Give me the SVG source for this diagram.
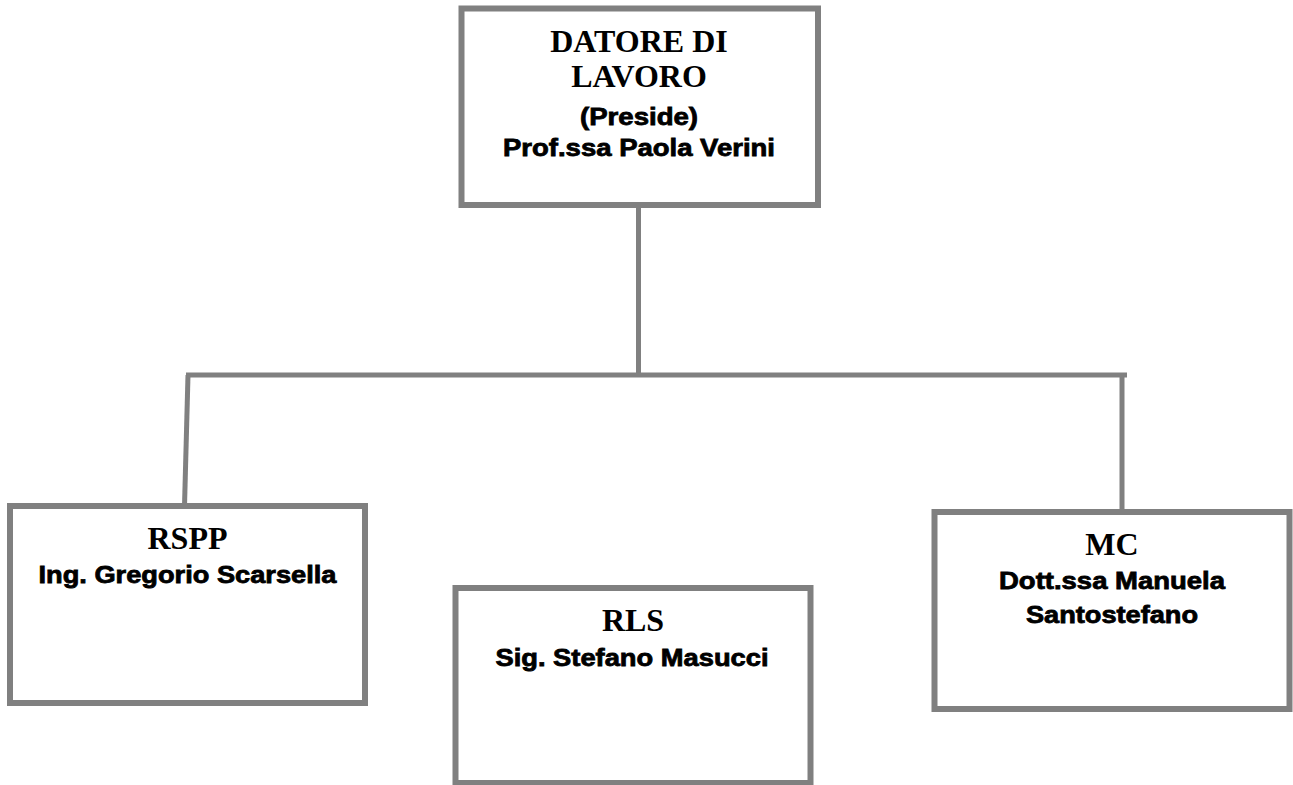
<svg xmlns="http://www.w3.org/2000/svg" width="1293" height="785" viewBox="0 0 1293 785">
<style>
.box{fill:#ffffff;stroke:#808080;stroke-width:6}
.con{fill:none;stroke:#808080;stroke-width:5}
.t{font-family:"Liberation Serif","Times New Roman",serif;font-weight:bold;font-size:32px;fill:#000;text-anchor:middle}
.s{font-family:"Liberation Sans",Arial,sans-serif;font-weight:bold;font-size:24px;fill:#000;stroke:#000;stroke-width:0.8;text-anchor:middle}
</style>
<rect width="1293" height="785" fill="#ffffff"/>
<g id="connectors">
<line class="con" x1="638.5" y1="205" x2="638.5" y2="375"/>
<line class="con" x1="186" y1="375" x2="1127" y2="375"/>
<line class="con" x1="188" y1="375" x2="184.5" y2="506"/>
<line class="con" x1="1122" y1="375" x2="1122" y2="512"/>
</g>
<g id="datore">
<rect class="box" x="461.5" y="8.5" width="356.5" height="196.5"/>
<text class="t" x="639" y="52">DATORE DI</text>
<text class="t" x="639" y="87">LAVORO</text>
<text class="s" x="639" y="125" textLength="118" lengthAdjust="spacingAndGlyphs">(Preside)</text>
<text class="s" x="639" y="156" textLength="272" lengthAdjust="spacingAndGlyphs">Prof.ssa Paola Verini</text>
</g>
<g id="rspp">
<rect class="box" x="10" y="506" width="355" height="197"/>
<text class="t" x="187.5" y="549">RSPP</text>
<text class="s" x="187.5" y="583" textLength="298" lengthAdjust="spacingAndGlyphs">Ing. Gregorio Scarsella</text>
</g>
<g id="rls">
<rect class="box" x="455.5" y="588" width="355" height="195"/>
<text class="t" x="633" y="631">RLS</text>
<text class="s" x="632" y="666" textLength="273" lengthAdjust="spacingAndGlyphs">Sig. Stefano Masucci</text>
</g>
<g id="mc">
<rect class="box" x="934.5" y="512" width="355" height="197"/>
<text class="t" x="1112" y="555">MC</text>
<text class="s" x="1112" y="589" textLength="226" lengthAdjust="spacingAndGlyphs">Dott.ssa Manuela</text>
<text class="s" x="1112" y="623" textLength="172" lengthAdjust="spacingAndGlyphs">Santostefano</text>
</g>
</svg>
